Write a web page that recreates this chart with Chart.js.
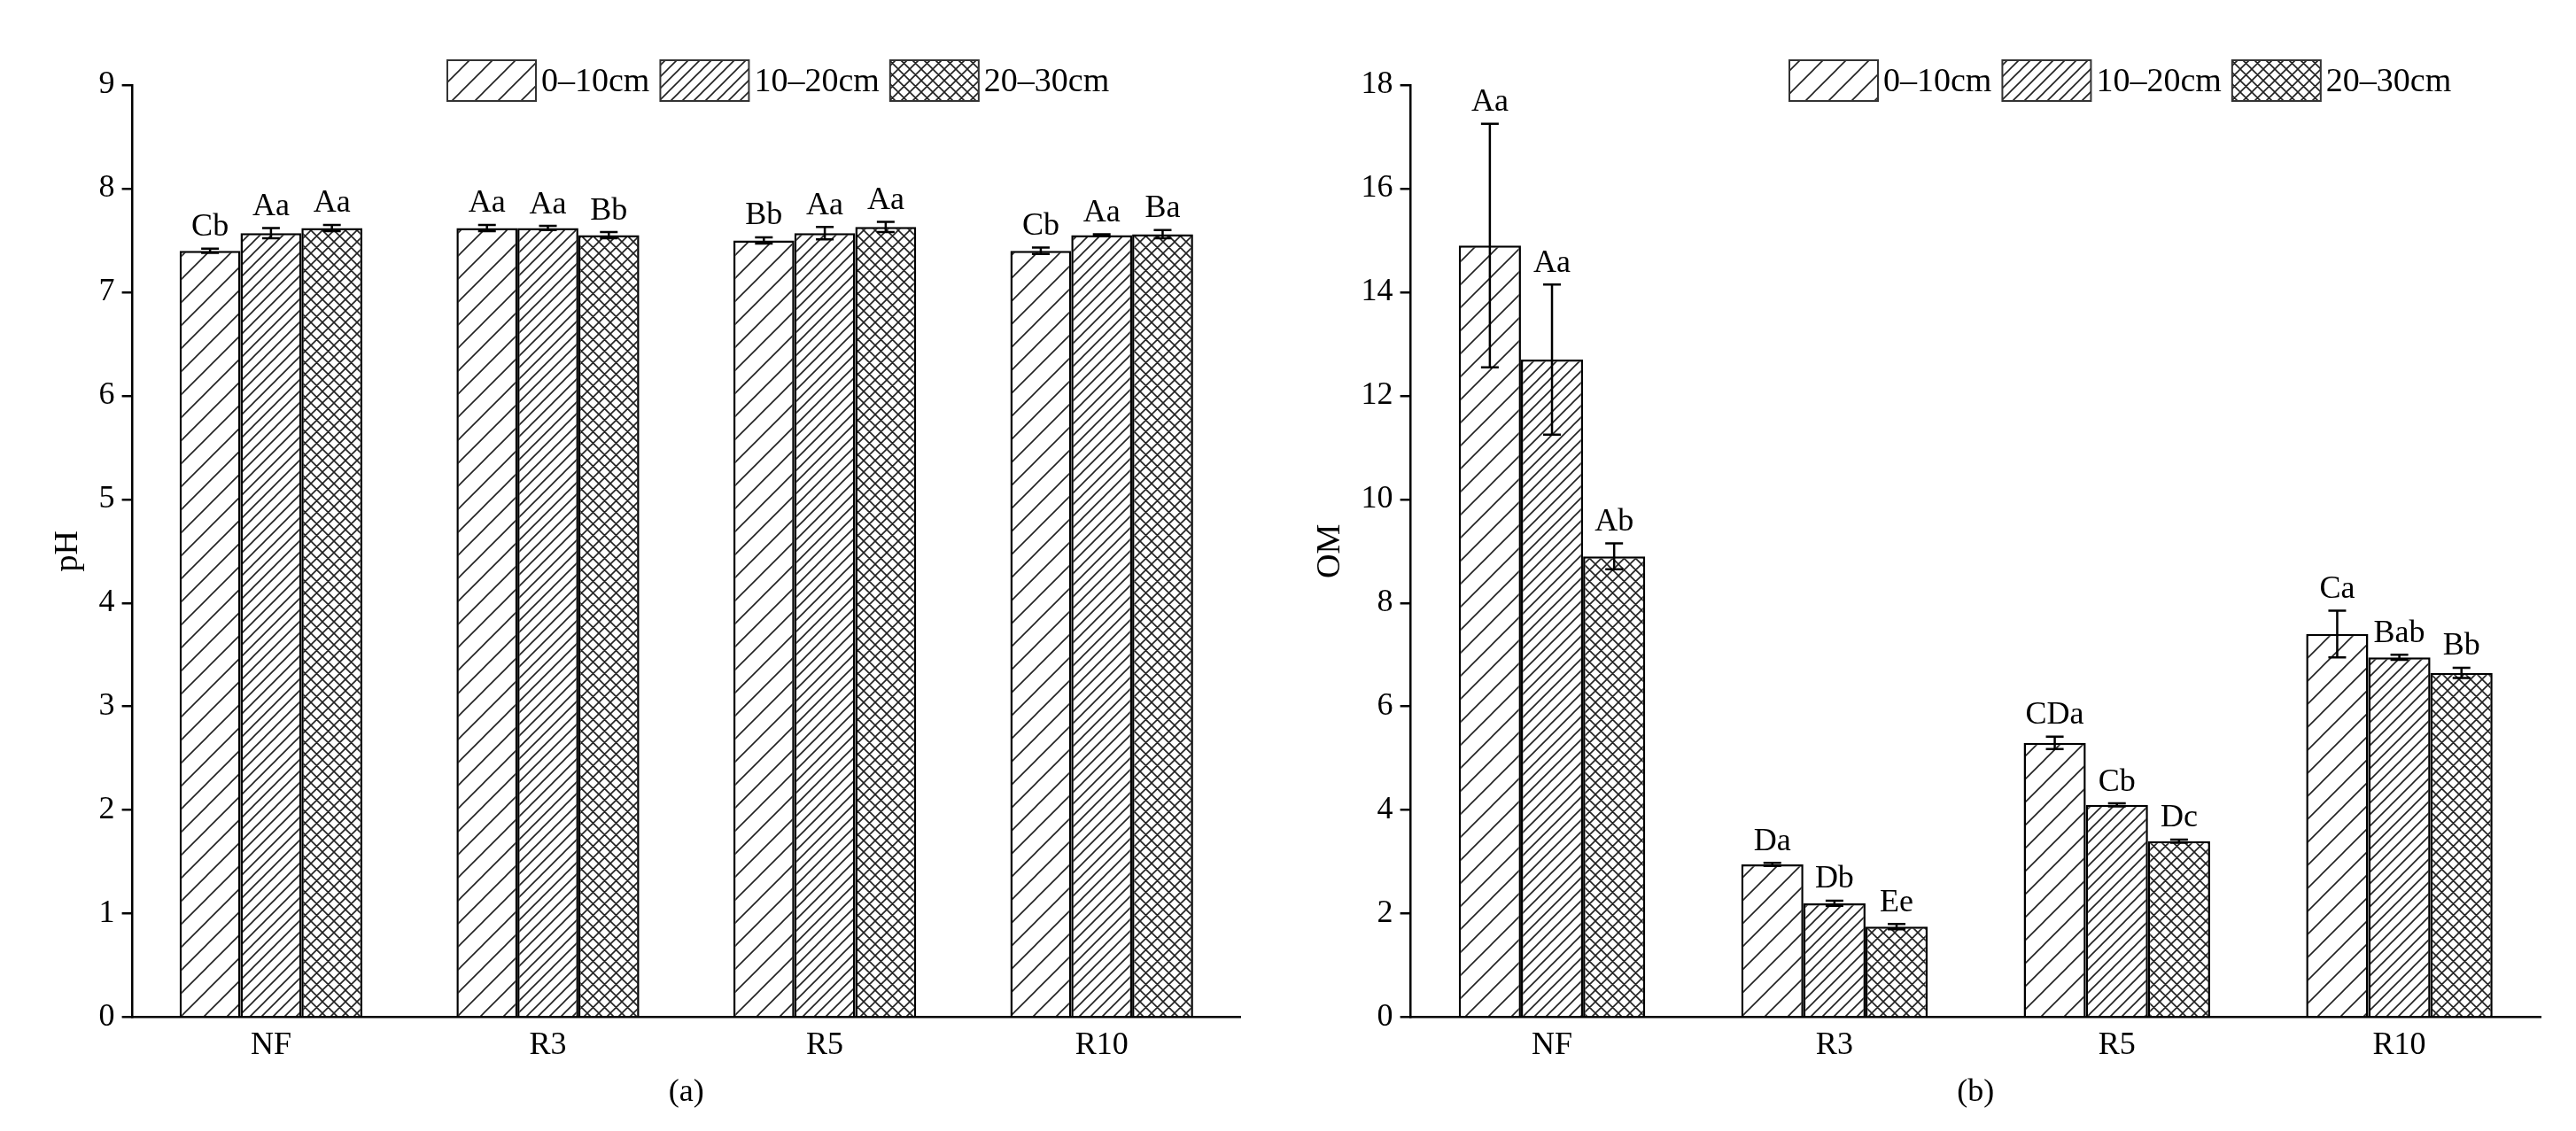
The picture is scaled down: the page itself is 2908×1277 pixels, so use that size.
<!DOCTYPE html>
<html>
<head>
<title>pH and OM</title>
<script src="https://cdn.jsdelivr.net/npm/chart.js"></script>
<style>
  body { margin: 0; background: #fff; width: 2908px; height: 1277px; overflow: hidden; }
  .box { position: absolute; top: 0; height: 1277px; }
</style>
</head>
<body>
<div class="box" style="left:0;width:1440px"><canvas id="phChart"></canvas></div>
<div class="box" style="left:1450px;width:1458px"><canvas id="omChart"></canvas></div>
<script>
const sites = ['NF', 'R3', 'R5', 'R10'];
const depths = ['0–10cm', '10–20cm', '20–30cm'];

const phValues = [[7.40, 7.62, 7.50, 7.40], [7.57, 7.62, 7.57, 7.55], [7.62, 7.55, 7.63, 7.56]];
const phErrors = [[0.02, 0.03, 0.03, 0.03], [0.05, 0.02, 0.06, 0.01], [0.03, 0.03, 0.05, 0.04]];
const phLetters = [['Cb', 'Aa', 'Bb', 'Cb'], ['Aa', 'Aa', 'Aa', 'Aa'], ['Aa', 'Bb', 'Aa', 'Ba']];

const omValues = [[14.9, 2.95, 5.3, 7.4], [12.7, 2.2, 4.1, 6.95], [8.9, 1.75, 3.4, 6.65]];
const omErrors = [[2.35, 0.03, 0.12, 0.45], [1.45, 0.05, 0.03, 0.05], [0.25, 0.05, 0.03, 0.1]];
const omLetters = [['Aa', 'Da', 'CDa', 'Ca'], ['Aa', 'Db', 'Cb', 'Bab'], ['Ab', 'Ee', 'Dc', 'Bb']];

const FONT = '"Liberation Serif", "DejaVu Serif", serif';

function makePattern(kind) {
  const s = kind === 0 ? 26 : 13;
  const c = document.createElement('canvas');
  c.width = s; c.height = s;
  const g = c.getContext('2d');
  g.fillStyle = '#fff'; g.fillRect(0, 0, s, s);
  g.strokeStyle = '#222'; g.lineWidth = 1.6;
  g.beginPath();
  g.moveTo(-1, s + 1); g.lineTo(s + 1, -1);
  g.moveTo(-s / 2, s / 2); g.lineTo(s / 2, -s / 2);
  g.moveTo(s / 2, s * 1.5); g.lineTo(s * 1.5, s / 2);
  if (kind === 2) {
    g.moveTo(-1, -1); g.lineTo(s + 1, s + 1);
    g.moveTo(-s / 2, s / 2); g.lineTo(s / 2, s * 1.5);
    g.moveTo(s / 2, -s / 2); g.lineTo(s * 1.5, s / 2);
  }
  g.stroke();
  return document.createElement('canvas').getContext('2d').createPattern(c, 'repeat');
}

const extras = {
  id: 'extras',
  afterDatasetsDraw(chart, args, opts) {
    const ctx = chart.ctx, y = chart.scales.y;
    ctx.save();
    chart.data.datasets.forEach((ds, i) => {
      chart.getDatasetMeta(i).data.forEach((bar, j) => {
        const v = ds.data[j], e = opts.errors[i][j];
        const top = y.getPixelForValue(v + e), bot = y.getPixelForValue(v - e);
        ctx.strokeStyle = '#000'; ctx.lineWidth = 2.5;
        ctx.beginPath();
        ctx.moveTo(bar.x, top); ctx.lineTo(bar.x, bot);
        ctx.moveTo(bar.x - 10, top); ctx.lineTo(bar.x + 10, top);
        ctx.moveTo(bar.x - 10, bot); ctx.lineTo(bar.x + 10, bot);
        ctx.stroke();
        ctx.fillStyle = '#000'; ctx.font = '36px ' + FONT;
        ctx.textAlign = 'center'; ctx.textBaseline = 'bottom';
        ctx.fillText(opts.letters[i][j], bar.x, top - 6);
      });
    });
    // legend
    let lx = opts.legendX, ly = chart.chartArea.top - 28;
    ctx.font = '38px ' + FONT; ctx.textAlign = 'left'; ctx.textBaseline = 'middle';
    chart.data.datasets.forEach(ds => {
      ctx.fillStyle = ds.backgroundColor; ctx.fillRect(lx, ly, 100, 46);
      ctx.strokeStyle = '#333'; ctx.lineWidth = 2; ctx.strokeRect(lx, ly, 100, 46);
      ctx.fillStyle = '#000'; ctx.fillText(ds.label, lx + 106, ly + 25);
      lx += 106 + ctx.measureText(ds.label).width + 12;
    });
    ctx.restore();
  }
};

function build(id, values, errors, letters, max, step, yTitle, xTitle, legendX, padLeft) {
  new Chart(document.getElementById(id), {
    type: 'bar',
    data: {
      labels: sites,
      datasets: depths.map((d, i) => ({
        label: d, data: values[i], backgroundColor: makePattern(i),
        borderColor: '#000', borderWidth: 2.5, barPercentage: 1, categoryPercentage: 0.66
      }))
    },
    options: {
      responsive: true, maintainAspectRatio: false, animation: false,
      layout: { padding: { top: 96, right: 40, bottom: 22, left: padLeft } },
      plugins: { legend: { display: false }, tooltip: { enabled: false },
        extras: { errors, letters, legendX } },
      scales: {
        x: {
          grid: { display: false, drawTicks: false },
          border: { color: '#000', width: 2.5 },
          ticks: { color: '#000', font: { family: FONT, size: 36 }, padding: 10 },
          title: { display: true, text: xTitle, color: '#000', font: { family: FONT, size: 36 }, padding: 0 }
        },
        y: {
          min: 0, max: max,
          grid: { drawOnChartArea: false, drawTicks: true, tickLength: 12, color: '#000', lineWidth: 2.5 },
          border: { color: '#000', width: 2.5 },
          ticks: { stepSize: step, color: '#000', font: { family: FONT, size: 36 }, padding: 8 },
          title: { display: true, text: yTitle, color: '#000', font: { family: FONT, size: 38 } }
        }
      }
    },
    plugins: [extras]
  });
}

build('phChart', phValues, phErrors, phLetters, 9, 1, 'pH', '(a)', 505, 50);
build('omChart', omValues, omErrors, omLetters, 18, 2, 'OM', '(b)', 570, 25);
</script>
</body>
</html>
